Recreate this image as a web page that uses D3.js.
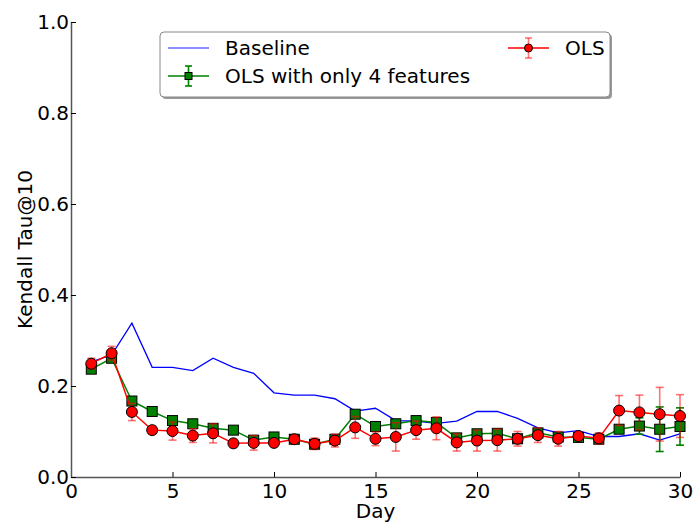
<!DOCTYPE html>
<html>
<head>
<meta charset="utf-8">
<script src="https://cdn.jsdelivr.net/npm/d3@7"></script>
<style>
  html, body { margin: 0; padding: 0; background: #fff; }
  svg { display: block; font-family: "DejaVu Sans", sans-serif; }
</style>
</head>
<body>
<svg id="chart" width="694" height="522"></svg>
<script>
// Kendall Tau@10 per day for three rankers
const days = d3.range(1, 31);
const baseline = [0.253, 0.268, 0.338, 0.241, 0.241, 0.234, 0.261, 0.241, 0.228, 0.185,
                  0.180, 0.180, 0.172, 0.145, 0.151, 0.124, 0.123, 0.118, 0.123, 0.144,
                  0.144, 0.129, 0.108, 0.097, 0.102, 0.089, 0.089, 0.095, 0.081, 0.095];
const ols4 = [0.237, 0.261, 0.167, 0.144, 0.124, 0.117, 0.107, 0.103, 0.081, 0.088,
              0.083, 0.072, 0.083, 0.138, 0.111, 0.117, 0.124, 0.120, 0.086, 0.095,
              0.096, 0.084, 0.097, 0.088, 0.087, 0.083, 0.105, 0.112, 0.105, 0.111];
const ols4Err = [0.008, 0.008, 0.006, 0.005, 0.005, 0.005, 0.005, 0.005, 0.005, 0.005,
                 0.005, 0.005, 0.006, 0.006, 0.005, 0.005, 0.005, 0.006, 0.005, 0.006,
                 0.006, 0.005, 0.005, 0.005, 0.005, 0.005, 0.008, 0.018, 0.049, 0.041];
const ols = [0.249, 0.272, 0.143, 0.103, 0.101, 0.091, 0.096, 0.074, 0.075, 0.075,
             0.083, 0.073, 0.080, 0.109, 0.084, 0.088, 0.103, 0.107, 0.076, 0.080,
             0.081, 0.084, 0.092, 0.084, 0.090, 0.085, 0.146, 0.142, 0.138, 0.134];
const olsErr = [0.012, 0.015, 0.019, 0.009, 0.020, 0.015, 0.021, 0.009, 0.016, 0.008,
                0.006, 0.0125, 0.014, 0.024, 0.015, 0.031, 0.020, 0.025, 0.019, 0.023,
                0.024, 0.016, 0.016, 0.016, 0.009, 0.012, 0.033, 0.038, 0.059, 0.047];
const xTicks = [0, 5, 10, 15, 20, 25, 30];
const yTicks = [0.0, 0.2, 0.4, 0.6, 0.8, 1.0];

const FONT = "20px";
const svg = d3.select("#chart");
const margin = { left: 71, right: 14, top: 22, bottom: 45 };
const W = 694, H = 522;
const x = d3.scaleLinear().domain([0, 30]).range([margin.left, W - margin.right]);
const y = d3.scaleLinear().domain([0, 1]).range([H - margin.bottom, margin.top]);

// axes with inward ticks
const axisColor = "#555";
const xAxis = svg.append("g")
  .attr("transform", `translate(0,${y(0)})`)
  .call(d3.axisBottom(x).tickValues(xTicks).tickFormat(d3.format("d")).tickSizeInner(-5).tickSizeOuter(0).tickPadding(6));
const yAxis = svg.append("g")
  .attr("transform", `translate(${x(0)},0)`)
  .call(d3.axisLeft(y).tickValues(yTicks).tickFormat(d3.format(".1f")).tickSizeInner(-5).tickSizeOuter(0).tickPadding(2));
[xAxis, yAxis].forEach(g => {
  g.select(".domain").attr("stroke", axisColor).attr("stroke-width", 1.5);
  g.selectAll(".tick line").attr("stroke", "#000");
  g.selectAll(".tick text").attr("fill", "#000").style("font-size", FONT)
   .style("font-family", "DejaVu Sans, sans-serif");
});
xAxis.selectAll(".tick text").attr("dy", "0.75em");

svg.append("text").attr("x", x(15)).attr("y", 518).attr("text-anchor", "middle")
  .style("font-size", FONT).text("Day");
svg.append("text").attr("transform", `translate(32,${y(0.5)}) rotate(-90)`)
  .attr("text-anchor", "middle").style("font-size", FONT).text("Kendall Tau@10");

const line = d3.line().x((d, i) => x(days[i])).y(d => y(d));
const plot = svg.append("g");

// baseline
plot.append("path").datum(baseline).attr("d", line)
  .attr("fill", "none").attr("stroke", "#0000ff").attr("stroke-width", 1.3);

function series(values, errs, color, errColor, errOpacity, shape) {
  const g = plot.append("g");
  g.append("path").datum(values).attr("d", line)
    .attr("fill", "none").attr("stroke", color).attr("stroke-width", 1.5);
  const eb = g.selectAll(".eb").data(values).join("g")
    .attr("stroke", errColor).attr("stroke-opacity", errOpacity).attr("stroke-width", 1.6);
  eb.append("line").attr("x1", (d, i) => x(days[i])).attr("x2", (d, i) => x(days[i]))
    .attr("y1", (d, i) => y(d - errs[i])).attr("y2", (d, i) => y(d + errs[i]));
  [-1, 1].forEach(s => {
    eb.append("line").attr("x1", (d, i) => x(days[i]) - 4).attr("x2", (d, i) => x(days[i]) + 4)
      .attr("y1", (d, i) => y(d + s * errs[i])).attr("y2", (d, i) => y(d + s * errs[i]));
  });
  if (shape === "square") {
    g.selectAll(".m").data(values).join("rect")
      .attr("x", (d, i) => x(days[i]) - 5).attr("y", d => y(d) - 5)
      .attr("width", 10).attr("height", 10)
      .attr("fill", color).attr("stroke", "#000").attr("stroke-width", 1);
  } else {
    g.selectAll(".m").data(values).join("circle")
      .attr("cx", (d, i) => x(days[i])).attr("cy", d => y(d)).attr("r", 5.5)
      .attr("fill", color).attr("stroke", "#000").attr("stroke-width", 1);
  }
}
series(ols4, ols4Err, "#008000", "#008000", 1, "square");
series(ols, olsErr, "#ff0000", "#ff0000", 0.55, "circle");

// legend
const lg = svg.append("g");
lg.append("rect").attr("x", 162).attr("y", 34).attr("width", 450).attr("height", 65)
  .attr("rx", 4).attr("fill", "#999");
lg.append("rect").attr("x", 160).attr("y", 32).attr("width", 450).attr("height", 65)
  .attr("rx", 4).attr("fill", "#fff").attr("stroke", "#888").attr("stroke-width", 1);

function legendEntry(lx, ly, label, color, errColor, errOpacity, shape) {
  const g = lg.append("g");
  g.append("line").attr("x1", lx).attr("x2", lx + 41).attr("y1", ly).attr("y2", ly)
    .attr("stroke", color).attr("stroke-opacity", shape ? 1 : 0.6).attr("stroke-width", 1.5);
  if (shape) {
    const cx = lx + 20.5;
    const e = g.append("g").attr("stroke", errColor).attr("stroke-opacity", errOpacity).attr("stroke-width", 1.6);
    e.append("line").attr("x1", cx).attr("x2", cx).attr("y1", ly - 10).attr("y2", ly + 10);
    e.append("line").attr("x1", cx - 3.5).attr("x2", cx + 3.5).attr("y1", ly - 10).attr("y2", ly - 10);
    e.append("line").attr("x1", cx - 3.5).attr("x2", cx + 3.5).attr("y1", ly + 10).attr("y2", ly + 10);
    if (shape === "square") {
      g.append("rect").attr("x", cx - 3.5).attr("y", ly - 3.5).attr("width", 7).attr("height", 7)
        .attr("fill", color).attr("stroke", "#000");
    } else {
      g.append("circle").attr("cx", cx).attr("cy", ly).attr("r", 4)
        .attr("fill", color).attr("stroke", "#000");
    }
  }
  g.append("text").attr("x", lx + 57).attr("y", ly).attr("dy", "0.35em")
    .style("font-size", FONT).text(label);
}
legendEntry(168, 48, "Baseline", "#0000ff", null, 1, null);
legendEntry(168, 76, "OLS with only 4 features", "#008000", "#008000", 1, "square");
legendEntry(508, 48, "OLS", "#ff0000", "#ff0000", 0.55, "circle");
</script>
</body>
</html>
